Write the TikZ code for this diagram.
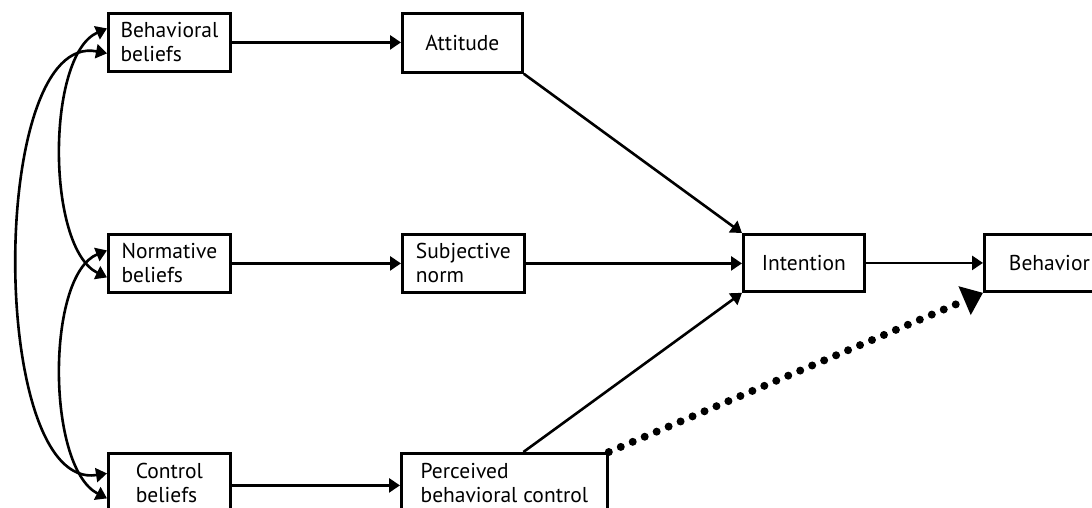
\documentclass[tikz,border=0pt]{standalone}
\usepackage{fontspec}
\setmainfont{PT Sans}
\usetikzlibrary{arrows.meta,calc}
\begin{document}
\begin{tikzpicture}[x=1pt,y=-1pt,
  box/.style={draw,line width=2.8pt,anchor=north west,align=left,inner sep=0pt,
    font=\fontsize{21.5}{24}\selectfont},
  conn/.style={line width=2.6pt,-{Triangle[length=11pt,width=14pt]}},
  dconn/.style={line width=2.6pt,{Triangle[length=11pt,width=14pt]}-{Triangle[length=11pt,width=14pt]}},
  dotconn/.style={line width=8pt,line cap=round,dash pattern=on 0pt off 13pt,
    -{Triangle[length=20pt,width=30pt]}}]
\useasboundingbox (0,0) rectangle (1092,507);
\clip (0,0) rectangle (1092,507);
\fill[white] (0,0) rectangle (1092,507);
% nodes
\node[box,minimum width=122pt,minimum height=58pt] (BB) at (107,12) {Behavioral\\beliefs};
\node[box,minimum width=122pt,minimum height=58pt] (NB) at (107,233) {Normative\\beliefs};
\node[box,minimum width=122pt,minimum height=60pt] (CB) at (107,452) {Control\\beliefs};
\node[box,minimum width=120pt,minimum height=59pt] (AT) at (401,12) {Attitude};
\node[box,minimum width=122pt,minimum height=58pt] (SN) at (401,233) {Subjective\\norm};
\node[box,minimum width=206pt,minimum height=60pt] (PBC) at (400,452) {Perceived\\behavioral control};
\node[box,minimum width=121pt,minimum height=57pt] (IN) at (742,233) {Intention};
\node[box,minimum width=130pt,minimum height=57pt] (BE) at (983,233) {Behavior};
% left curved connectors
\draw[dconn] ([yshift=-11pt]BB.west) .. controls (-12,30) and (-12,492) .. ([yshift=10pt]CB.west);
\draw[dconn] ([yshift=14pt]BB.west) .. controls (46,55) and (46,248) .. ([yshift=-14pt]NB.west);
\draw[dconn] ([yshift=13pt]NB.west) .. controls (46,275) and (46,467) .. ([yshift=-15pt]CB.west);
% straight connectors
\draw[conn] (BB.east) -- (BB.east -| AT.west);
\draw[conn] (NB.east) -- (NB.east -| SN.west);
\draw[conn] ([yshift=-2pt]CB.east) -- ([yshift=-2pt]CB.east -| PBC.west);
\draw[conn] (AT.south east) -- (IN.north west);
\draw[conn] (SN.east) -- (SN.east -| IN.west);
\draw[conn] ([xshift=19pt]PBC.north) -- (IN.south west);
\draw[conn] (IN.east) -- (IN.east -| BE.west);
\draw[dotconn] (PBC.north east) -- (BE.south west);
\end{tikzpicture}
\end{document}
